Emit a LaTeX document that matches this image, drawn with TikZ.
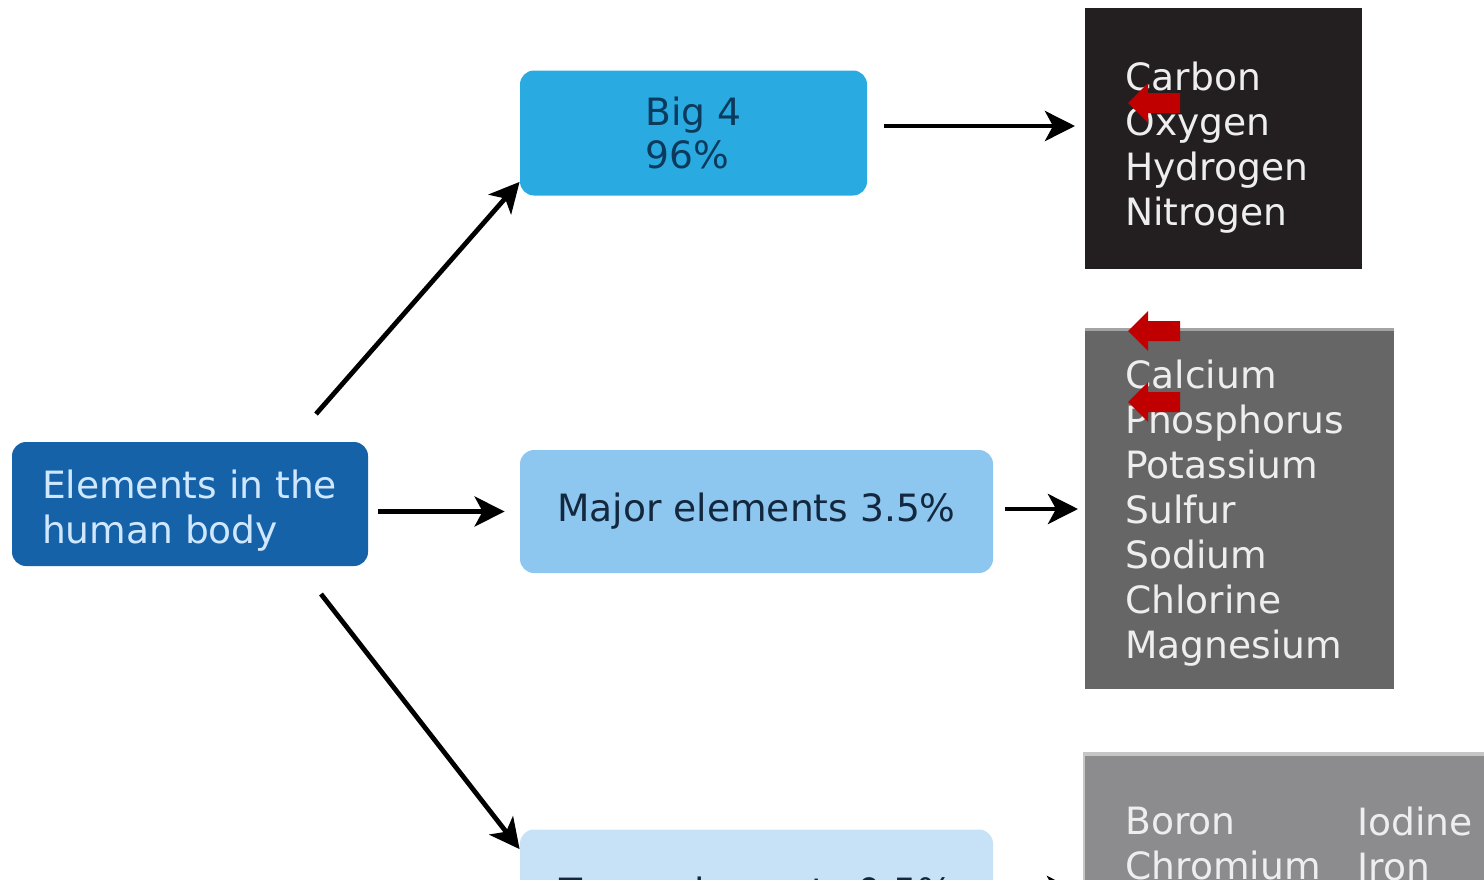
\documentclass[tikz,border=0pt]{standalone}
\usepackage{fontspec}
\setmainfont{DejaVu Sans}
\usetikzlibrary{arrows.meta,calc}
\definecolor{rootblue}{HTML}{1662A8}
\definecolor{roottext}{HTML}{CFE8FF}
\definecolor{bigblue}{HTML}{29ABE2}
\definecolor{bigtext}{HTML}{0B3A5C}
\definecolor{majblue}{HTML}{8DC6EE}
\definecolor{majtext}{HTML}{13283F}
\definecolor{trblue}{HTML}{C7E2F6}
\definecolor{blkc}{HTML}{231F20}
\definecolor{greyc}{HTML}{666667}
\definecolor{greytop}{HTML}{A3A3A4}
\definecolor{lgreyc}{HTML}{8C8B8D}
\definecolor{lgreytop}{HTML}{C6C6C6}
\definecolor{listtext}{HTML}{EEEEEE}
\definecolor{redc}{HTML}{C00000}
\begin{document}
\begin{tikzpicture}[x=0.5pt,y=-0.5pt,
  txt/.style={font=\fontsize{18.8}{22.5}\selectfont},
  box/.style={txt, rounded corners=7pt, inner sep=0pt},
  panel/.style={inner sep=0pt, outer sep=0pt},
  list/.style={txt, anchor=north west, inner sep=0pt, align=left, text=listtext},
  arr/.style={line width=2.4pt, -{Stealth[length=15pt,width=15pt,inset=4pt]}},
  redarr/.pic={\fill[redc] (0,0) -- (20,-20) -- (20,-10) -- (52,-10) -- (52,10) -- (20,10) -- (20,20) -- cycle;}
]
\useasboundingbox (0,0) rectangle (1484,879);
\clip (0,0) rectangle (1484,879);

% left and middle boxes
\node[box, fill=rootblue, text=roottext, minimum width=178pt, minimum height=62pt]
      (root) at (190,504) {\raisebox{-3.5pt}[\height][\depth]{\parbox{148pt}{Elements in the\\human body}}};
\node[box, fill=bigblue, text=bigtext, minimum width=173.5pt, minimum height=62.5pt,
      align=left, font=\fontsize{18.8}{21.5}\selectfont] (big4) at (693.5,133) {Big 4\\96\%};
\node[box, fill=majblue, text=majtext, minimum width=236.5pt, minimum height=61.5pt]
      (major) at (756.5,511.5) {Major elements 3.5\%};
\node[box, fill=trblue, text=majtext, minimum width=236.5pt, minimum height=61.5pt]
      (trace) at (756.5,891) {Trace elements 0.5\%};

% right panels
\node[panel, fill=blkc, minimum width=138.5pt, minimum height=130.5pt] (blk) at (1223.5,138.5) {};
\node[list] (blktxt) at (1125,62) {Carbon\\Oxygen\\Hydrogen\\Nitrogen};

\node[panel, fill=greyc, minimum width=154.5pt, minimum height=180.5pt] (grey) at (1239.5,508.5) {};
\draw[greytop, line width=1.5pt] ([yshift=-0.75pt]grey.north west) -- ([yshift=-0.75pt]grey.north east);
\node[list] (greytxt) at (1125,360) {Calcium\\Phosphorus\\Potassium\\Sulfur\\Sodium\\Chlorine\\Magnesium};

\node[panel, fill=lgreyc, minimum width=208.5pt, minimum height=124pt] (lgrey) at (1291.5,876) {};
\draw[lgreytop, line width=2pt] ([yshift=-1pt]lgrey.north west) -- ([yshift=-1pt]lgrey.north east);
\draw[lgreytop, line width=1pt] ([xshift=0.5pt]lgrey.north west) -- ([xshift=0.5pt]lgrey.south west);
\node[list] (lgtxta) at (1125,807) {Boron\\Chromium};
\node[list] (lgtxtb) at (1357,807) {Iodine\\Iron};

% connectors
\coordinate (s1) at (316,414);
\coordinate (s3) at (321,594);
\draw[arr] (s1) -- ([yshift=7pt]big4.south west);
\draw[arr, shorten <=5pt, shorten >=7.5pt] (root.east |- major.west) -- (major.west);
\draw[arr] (s3) -- ([yshift=-10pt]trace.north west);
\draw[arr, shorten <=8.5pt, shorten >=5pt] ([yshift=3.5pt]big4.east) -- ([yshift=3.5pt]big4.east -| blk.west);
\draw[arr, shorten <=6pt, shorten >=3.5pt] ([yshift=1.25pt]major.east) -- ([yshift=1.25pt]major.east -| grey.west);
\draw[arr, shorten <=6pt, shorten >=3pt] (trace.east) -- (trace.east -| lgrey.west);

% red markers
\pic (r1) at (1128,103) {redarr};
\pic (r2) at (1128,331) {redarr};
\pic (r3) at (1128,402) {redarr};
\end{tikzpicture}
\end{document}
